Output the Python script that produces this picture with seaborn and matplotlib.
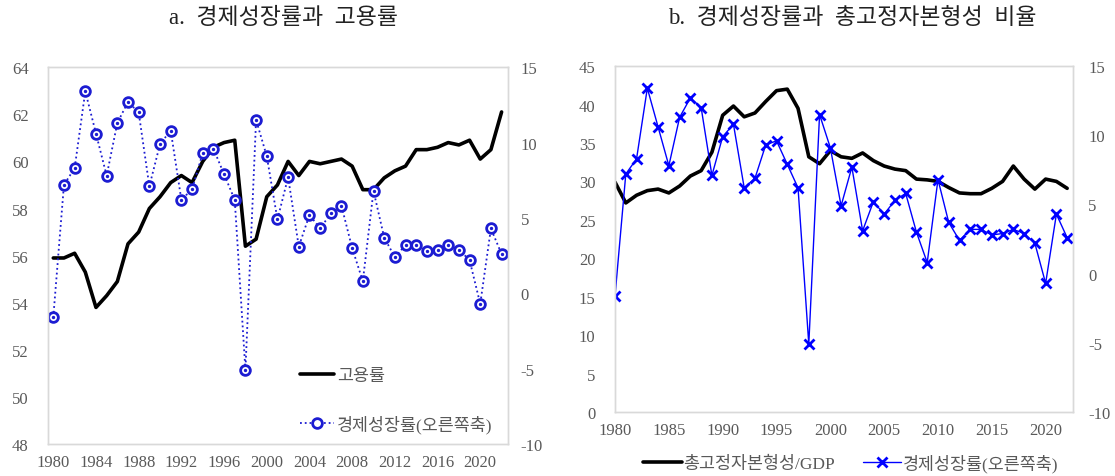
import numpy as np
import pandas as pd
import matplotlib
matplotlib.use("Agg")
import matplotlib.pyplot as plt
import seaborn as sns

sns.set_theme(style="white")
plt.rcParams['font.family'] = ['Liberation Serif', 'Noto Sans CJK KR', 'DejaVu Sans']
plt.rcParams['axes.unicode_minus'] = False

years = list(range(1980, 2023))

# 고용률 (%)
employment = [55.9, 55.9, 56.1, 55.3, 53.8, 54.3, 54.9, 56.5, 57.0, 58.0,
              58.5, 59.1, 59.4, 59.1, 60.0, 60.6, 60.8, 60.9, 56.4, 56.7,
              58.5, 59.0, 60.0, 59.4, 60.0, 59.9, 60.0, 60.1, 59.8, 58.8,
              58.8, 59.3, 59.6, 59.8, 60.5, 60.5, 60.6, 60.8, 60.7, 60.9,
              60.1, 60.5, 62.1]

# 경제성장률 (%)
growth = [-1.6, 7.2, 8.3, 13.4, 10.6, 7.8, 11.3, 12.7, 12.0, 7.1,
          9.9, 10.8, 6.2, 6.9, 9.3, 9.6, 7.9, 6.2, -5.1, 11.5,
          9.1, 4.9, 7.7, 3.1, 5.2, 4.3, 5.3, 5.8, 3.0, 0.8,
          6.8, 3.7, 2.4, 3.2, 3.2, 2.8, 2.9, 3.2, 2.9, 2.2,
          -0.7, 4.3, 2.6]

# 총고정자본형성/GDP (%)
gfcf = [29.9, 27.2, 28.2, 28.8, 29.0, 28.5, 29.4, 30.7, 31.4, 33.8,
        38.6, 39.8, 38.4, 38.9, 40.4, 41.8, 42.0, 39.5, 33.2, 32.3,
        34.0, 33.2, 33.0, 33.7, 32.7, 32.0, 31.6, 31.4, 30.3, 30.2,
        30.0, 29.2, 28.5, 28.4, 28.4, 29.1, 30.0, 32.0, 30.3, 29.0,
        30.3, 30.0, 29.1]

df = pd.DataFrame({'year': years, 'employment': employment,
                   'growth': growth, 'gfcf': gfcf})

grey_txt = '#595959'
spine_c = '#d9d9d9'
blue_a = '#1c1cd2'
blue_b = '#0000ff'

fig = plt.figure(figsize=(11.15, 4.77), dpi=100)
ax1 = fig.add_axes([0.043, 0.067, 0.4126, 0.790])
ax2 = fig.add_axes([0.5516, 0.134, 0.4108, 0.7254])


def style_axes(ax, ax_r, lpad, rpad):
    for a in (ax, ax_r):
        for s in a.spines.values():
            s.set_color(spine_c)
            s.set_linewidth(1.0)
        a.set_xlabel('')
        a.set_ylabel('')
    ax.tick_params(axis='y', length=0, pad=lpad, labelsize=12, colors=grey_txt)
    ax.tick_params(axis='x', length=0, pad=7, labelsize=12, colors=grey_txt)
    ax_r.tick_params(axis='y', length=0, pad=rpad, labelsize=12, colors=grey_txt)


# a. 경제성장률과 고용률
sns.lineplot(data=df, x='year', y='employment', ax=ax1, color='black',
             linewidth=2.6, label='고용률', legend=False)
ax1r = ax1.twinx()
sns.lineplot(data=df, x='year', y='growth', ax=ax1r, color=blue_a,
             linewidth=1.3, linestyle=':', marker='o', markersize=7,
             markerfacecolor='white', markeredgecolor=blue_a,
             markeredgewidth=2, label='경제성장률(오른쪽축)', legend=False)
ax1r.scatter(df['year'], df['growth'], s=2, color=blue_a, zorder=5)
ax1.set_xlim(1979.5, 2022.6)
ax1.set_ylim(48, 64)
ax1.set_yticks(np.arange(48, 65, 2))
ax1.set_xticks(np.arange(1980, 2021, 4))
ax1r.set_ylim(-10, 15)
ax1r.set_yticks(np.arange(-10, 16, 5))
style_axes(ax1, ax1r, 14, 9)

h1, l1 = ax1.get_legend_handles_labels()
h2, l2 = ax1r.get_legend_handles_labels()
ax1r.legend(h1 + h2, l1 + l2, loc='lower right', bbox_to_anchor=(1.0, -0.012),
            frameon=False, fontsize=12.5, labelspacing=1.75, handlelength=2.0,
            handletextpad=0.15, labelcolor=grey_txt)

# b. 경제성장률과 총고정자본형성 비율
sns.lineplot(data=df, x='year', y='gfcf', ax=ax2, color='black',
             linewidth=2.6, label='총고정자본형성/GDP', legend=False)
ax2r = ax2.twinx()
sns.lineplot(data=df, x='year', y='growth', ax=ax2r, color=blue_b,
             linewidth=1.0, marker='x', markersize=6.5, markeredgewidth=2,
             markeredgecolor=blue_b, label='경제성장률(오른쪽축)', legend=False)
ax2.set_xlim(1980, 2022.55)
ax2.set_ylim(0, 45)
ax2.set_yticks(np.arange(0, 46, 5))
ax2.set_xticks(np.arange(1980, 2021, 5))
ax2r.set_ylim(-10, 15)
ax2r.set_yticks(np.arange(-10, 16, 5))
style_axes(ax2, ax2r, 14, 11)

h1, l1 = ax2.get_legend_handles_labels()
h2, l2 = ax2r.get_legend_handles_labels()
ax2r.legend(h1 + h2, l1 + l2, loc='center', bbox_to_anchor=(0.515, -0.147),
            ncol=2, frameon=False, fontsize=12.5, handlelength=2.2,
            handletextpad=0.1, columnspacing=1.6, labelcolor=grey_txt)

fig.text(0.254, 0.962, 'a.  경제성장률과  고용률', ha='center', va='center',
         fontsize=16.5, color='#222222')
fig.text(0.764, 0.962, 'b.  경제성장률과  총고정자본형성  비율', ha='center', va='center',
         fontsize=16.5, color='#222222')

fig.savefig('out.png', dpi=100)
